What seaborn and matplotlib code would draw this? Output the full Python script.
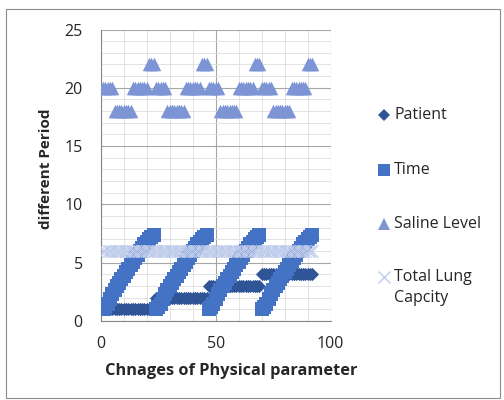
import matplotlib
matplotlib.use("Agg")
import matplotlib.pyplot as plt
import numpy as np
import pandas as pd
import seaborn as sns
from matplotlib.lines import Line2D
from matplotlib.patches import Rectangle
from matplotlib.ticker import MultipleLocator

# ---- data -------------------------------------------------------------
reading = list(range(1, 93))                      # observation number (x)
patients = [1, 2, 3, 4]                           # one block of readings per patient
visits_per_patient = 23
time_per_visit = [1.0, 1.2, 1.5, 1.9, 2.3, 2.7, 3.0, 3.3, 3.6, 3.9, 4.2, 4.5,
                  4.8, 5.1, 5.4, 5.7, 6.0, 6.3, 6.6, 6.8, 7.0, 7.2, 7.4]
saline_per_visit = [20, 20, 20, 20, 20, 18, 18, 18, 18, 18, 18, 18,
                    18, 20, 20, 20, 20, 20, 20, 20, 22, 22, 22]
lung_capacity_per_visit = [6.0] * visits_per_patient

series_names = ["Patient", "Time", "Saline Level", "Total Lung Capcity"]
series_colors = ["#2F5597", "#4472C4", "#7D95D5", "#BFCBEB"]

patient_col = [p for p in patients for _ in range(visits_per_patient)]
time_col = time_per_visit * len(patients)
saline_col = saline_per_visit * len(patients)
lung_col = lung_capacity_per_visit * len(patients)

df = pd.DataFrame({
    "reading": reading * 4,
    "value": patient_col + time_col + saline_col + lung_col,
    "series": sum([[n] * len(reading) for n in series_names], []),
})

# ---- figure -----------------------------------------------------------
sns.set_style("white")
plt.rcParams["font.family"] = ["Open Sans", "DejaVu Sans"]
text_color = "#262626"

W, H = 504, 400
fig = plt.figure(figsize=(W / 100, H / 100), dpi=100)
ax = fig.add_axes([100.7 / W, 79 / H, 230 / W, 291.5 / H])

styles = {
    "Patient": dict(marker="D", s=45, linewidth=0),
    "Time": dict(marker="s", s=110, linewidth=0),
    "Saline Level": dict(marker="^", s=95, linewidth=0),
    "Total Lung Capcity": dict(marker="x", s=80, linewidth=0.8),
}
for i, (name, color) in enumerate(zip(series_names, series_colors)):
    sub = df[df["series"] == name]
    sns.scatterplot(data=sub, x="reading", y="value", color=color, ax=ax,
                    legend=False, zorder=3 + i, **styles[name])

ax.set_xlim(0, 100)
ax.set_ylim(0, 25)
ax.xaxis.set_major_locator(MultipleLocator(50))
ax.xaxis.set_minor_locator(MultipleLocator(10))
ax.yaxis.set_major_locator(MultipleLocator(5))
ax.yaxis.set_minor_locator(MultipleLocator(1))
ax.grid(which="minor", color="#DDDDDD", linewidth=0.6, zorder=0)
ax.grid(which="major", color="#A6A6A6", linewidth=0.8, zorder=1)
ax.set_axisbelow(True)

for side in ["top", "right"]:
    ax.spines[side].set_visible(False)
for side in ["left", "bottom"]:
    ax.spines[side].set_color("#868686")
    ax.spines[side].set_linewidth(0.8)

ax.tick_params(which="major", direction="out", length=4, width=0.8,
               color="#868686", labelsize=11.5, labelcolor=text_color)
ax.tick_params(axis="x", which="major", pad=7)
ax.tick_params(axis="y", which="major", pad=9)
ax.tick_params(which="minor", length=0)

ax.set_xlabel("Chnages of Physical parameter", fontsize=11.8,
              fontweight="bold", color=text_color)
ax.set_ylabel("different Period", fontsize=11, fontweight="bold",
              color=text_color)
ax.xaxis.set_label_coords((231 - 100.7) / 230, (321 - 371) / 291.5)
ax.xaxis.label.set_va("center")
ax.yaxis.set_label_coords((46 - 100.7) / 230, (321 - 168.5) / 291.5)
ax.yaxis.label.set_va("center")


def fx(px):
    return px / W


def fy(py):
    return 1 - py / H


# legend to the right of the plot
legend_rows = [
    ("Patient", "D", 6.0, 115),
    ("Time", "s", 8.0, 169.5),
    ("Saline Level", "^", 8.0, 224),
    ("Total Lung", "x", 8.0, 277),
]
for (label, mk, ms, py), color in zip(legend_rows, series_colors):
    fig.add_artist(Line2D([fx(384)], [fy(py)], transform=fig.transFigure,
                          marker=mk, markersize=ms, color=color,
                          markeredgewidth=1.0 if mk == "x" else 0,
                          linestyle="none"))
    fig.text(fx(394), fy(py), label, fontsize=11.5, color=text_color,
             va="center", ha="left")
fig.text(fx(394), fy(298), "Capcity", fontsize=11.5, color=text_color,
         va="center", ha="left")

# chart frame
fig.add_artist(Rectangle((fx(6), fy(398)), fx(494), 389 / H,
                         transform=fig.transFigure, fill=False,
                         edgecolor="#8C8C8C", linewidth=0.8))

fig.savefig("out.png", dpi=100)
